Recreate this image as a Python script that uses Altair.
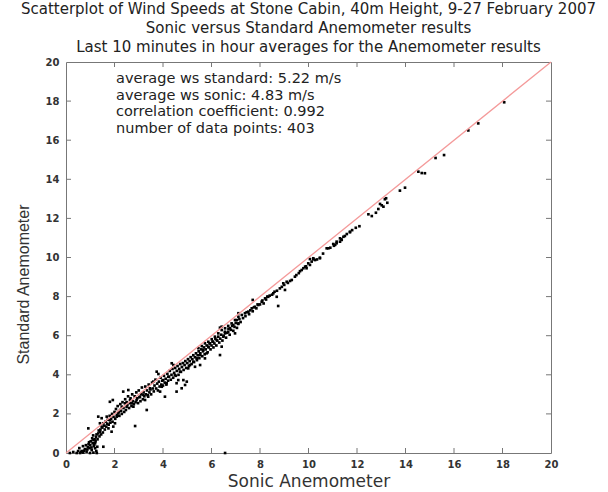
import altair as alt
import pandas as pd

# Sonic anemometer (x) readings, m/s
sonic = [
    0.16, 0.3, 0.44, 0.58, 0.65, 0.71, 0.78, 0.85, 0.9, 0.99,
    1.06, 1.13, 1.2, 1.27, 1.29, 1.0, 1.1, 0.95, 1.15, 1.25,
    0.92, 1.13, 1.2, 1.24, 1.33, 1.4, 1.47, 1.54, 1.4, 1.54,
    1.33, 1.47, 1.68, 1.81, 1.75, 1.88, 1.95, 2.02, 2.09, 2.16,
    2.23, 1.81, 1.93, 2.3, 2.36, 2.57, 2.43, 2.5, 2.64, 2.71,
    2.78, 2.85, 2.91, 3.05, 3.19, 3.26, 3.33, 3.39, 3.46, 3.6,
    3.74, 3.81, 3.88, 3.95, 4.01, 4.08, 4.15, 4.22, 4.36, 4.43,
    4.49, 4.56, 4.56, 4.63, 4.7, 4.77, 4.84, 4.91, 4.98, 5.04,
    5.11, 5.25, 5.32, 5.39, 5.53, 5.53, 5.66, 5.73, 5.8, 5.87,
    5.94, 6.07, 6.21, 6.35, 6.42, 6.49, 6.56, 6.69, 6.76, 6.9,
    6.97, 7.04, 7.11, 6.42, 6.56,
    5.46, 5.6, 5.73, 5.87, 6.01, 6.14, 6.28, 6.42, 6.56, 6.69,
    6.83, 6.97, 7.11, 7.25, 7.38, 7.52, 7.66, 7.79, 7.93, 8.07,
    8.21, 8.34, 8.55, 7.7, 7.11, 6.35, 8.75, 8.69, 8.82, 8.96,
    9.1, 9.24, 9.31, 9.44, 9.03, 9.72, 9.79, 9.86, 9.92, 9.99,
    10.06, 10.13, 10.2, 10.27, 10.47, 10.06, 10.2, 10.47, 10.75, 10.82,
    11.02, 11.05, 11.16, 11.16, 11.3, 11.3, 11.35, 11.37, 11.44, 11.58,
    11.71, 11.71, 11.95, 12.47, 12.61, 12.78, 12.88, 12.95, 13.02, 13.09,
    13.15, 13.2, 13.25, 13.77, 13.98, 14.53, 14.67, 14.8, 15.24, 15.59,
    16.59, 17.0, 18.07,
    0.5, 0.55, 0.62, 0.7, 0.75, 0.82, 0.88, 0.93, 0.97, 1.02,
    1.05, 1.08, 1.12, 1.16, 1.18, 1.22, 1.26, 1.3, 1.35, 1.38,
    1.42, 1.45, 1.5, 1.52, 1.58, 1.6, 1.63, 1.66, 1.7, 1.72,
    1.76, 1.8, 1.83, 1.86, 1.9, 1.92, 1.96, 2.0, 2.03, 2.06,
    2.1, 2.13, 2.17, 2.2, 2.24, 2.27, 2.3, 2.33, 2.37, 2.4,
    2.44, 2.47, 2.5, 2.53, 2.56, 2.6, 2.63, 2.66, 2.7, 2.73,
    2.76, 2.8, 2.83, 2.87, 2.9, 2.94, 2.97, 3.0, 3.03, 3.07,
    3.1, 3.13, 3.17, 3.2, 3.23, 3.27, 3.3, 3.34, 3.37, 3.41,
    3.44, 3.48, 3.51, 3.55, 3.58, 3.62, 3.65, 3.69, 3.72, 3.76,
    3.79, 3.83, 3.86, 3.9, 3.93, 3.97, 4.0, 4.04, 4.07, 4.11,
    4.14, 4.18, 4.21, 4.25, 4.28, 4.32, 4.35, 4.39, 4.42, 4.46,
    4.5, 4.53, 4.57, 4.6, 4.64, 4.67, 4.71, 4.74, 4.78, 4.82,
    4.85, 4.89, 4.92, 4.96, 5.0, 5.03, 5.07, 5.1, 5.14, 5.18,
    5.21, 5.25, 5.28, 5.32, 5.36, 5.4, 5.43, 5.47, 5.5, 5.54,
    5.58, 5.62, 5.65, 5.69, 5.72, 5.76, 5.8, 5.84, 5.88, 5.92,
    5.96, 6.0, 6.04, 6.08, 6.12, 6.16, 6.2, 6.24, 6.28, 6.32,
    6.36, 6.4, 6.45, 6.5, 6.55, 6.6, 6.65, 6.7, 6.75, 6.8,
    6.85, 6.9, 6.95, 7.0, 7.05, 7.1, 7.15, 7.2, 7.3, 7.4,
    7.45, 7.55, 7.6, 7.7, 7.75, 7.85, 7.9, 8.0, 8.1, 8.15,
    8.25, 8.3, 8.4, 8.5, 8.6, 8.7, 8.9, 9.0, 9.15, 9.5,
    9.6, 9.65, 9.9, 10.35, 10.6, 10.9, 11.1, 11.5, 11.8, 12.1,
]

# Standard anemometer (y) readings, m/s
standard = [
    0.0, 0.05, 0.0, 0.0, 0.1, 0.02, 0.2, 0.07, 0.3, 0.0,
    0.15, 0.02, 0.24, 0.0, 0.32, 0.4, 0.5, 0.55, 0.35, 0.1,
    1.26, 0.66, 0.5, 0.83, 1.0, 1.09, 1.35, 1.52, 1.52, 0.32,
    1.86, 1.78, 1.86, 1.69, 1.26, 1.09, 1.35, 1.52, 1.86, 2.03,
    2.2, 2.62, 2.71, 2.37, 3.14, 3.22, 2.54, 2.37, 2.71, 2.54,
    2.37, 1.38, 2.71, 2.88, 2.97, 2.71, 2.2, 2.88, 3.31, 3.65,
    4.16, 4.04, 3.14, 3.39, 3.73, 2.88, 3.57, 3.9, 4.59, 4.5,
    3.99, 3.57, 3.14, 3.73, 4.16, 3.31, 3.73, 3.48, 3.65, 4.33,
    4.5, 4.67, 4.41, 4.84, 4.5, 5.01, 5.27, 4.84, 5.1, 5.44,
    5.61, 5.69, 5.78, 5.01, 5.44, 5.95, 6.12, 6.2, 6.38, 6.55,
    6.12, 6.8, 6.63, 6.46, 0.0,
    5.36, 5.47, 5.61, 5.69, 5.82, 5.95, 6.12, 6.29, 6.38, 6.5,
    6.63, 6.8, 6.97, 7.06, 7.15, 7.23, 7.4, 7.48, 7.57, 7.74,
    7.91, 7.99, 8.17, 7.83, 7.15, 6.41, 7.52, 7.99, 8.42, 8.68,
    8.76, 8.8, 8.85, 9.02, 8.34, 9.36, 9.45, 9.53, 9.45, 9.7,
    9.62, 9.79, 9.91, 9.87, 9.96, 9.92, 9.96, 9.99, 10.47, 10.47,
    10.69, 10.6, 10.73, 10.81, 10.81, 10.98, 10.93, 10.9, 11.06, 11.2,
    11.29, 11.32, 11.52, 12.21, 12.12, 12.29, 12.48, 12.74, 12.67, 12.6,
    12.98, 13.03, 12.8, 13.42, 13.57, 14.39, 14.32, 14.31, 15.09, 15.24,
    16.5, 16.86, 17.94,
    0.1, 0.25, 0.05, 0.35, 0.12, 0.4, 0.18, 0.45, 0.25, 0.6,
    0.28, 0.75, 0.9, 0.42, 0.7, 0.6, 0.95, 0.7, 1.15, 0.85,
    1.2, 0.95, 1.3, 1.05, 1.4, 1.2, 1.6, 1.35, 1.5, 1.7,
    1.45, 1.9, 1.55, 1.75, 2.0, 1.6, 1.85, 2.1, 1.75, 2.25,
    1.95, 2.4, 2.1, 1.9, 2.5, 2.15, 2.0, 2.6, 2.3, 2.1,
    2.75, 2.2, 2.6, 2.45, 2.9, 2.3, 2.55, 2.8, 2.4, 3.0,
    2.65, 2.5, 2.9, 2.6, 3.1, 2.8, 2.55, 3.2, 2.85, 2.65,
    3.0, 3.35, 2.75, 3.1, 2.9, 3.4, 3.0, 3.2, 2.95, 3.5,
    3.1, 3.25, 3.0, 3.6, 3.3, 3.15, 3.45, 3.75, 3.3, 3.55,
    3.2, 3.65, 3.4, 3.85, 3.5, 3.7, 3.45, 3.95, 3.6, 3.8,
    3.5, 4.05, 3.7, 3.9, 4.2, 3.75, 4.0, 4.3, 3.85, 4.1,
    4.35, 3.95, 4.2, 4.45, 4.0, 4.3, 4.55, 4.15, 4.4, 4.6,
    4.25, 4.5, 4.7, 4.35, 4.6, 4.8, 4.45, 4.7, 4.9, 4.55,
    4.8, 5.0, 4.65, 4.9, 5.1, 4.75, 5.0, 5.2, 4.85, 5.1,
    5.3, 4.95, 5.2, 5.4, 5.05, 5.3, 5.5, 5.15, 5.4, 5.6,
    5.3, 5.5, 5.7, 5.4, 5.6, 5.85, 5.5, 5.75, 5.95, 5.65,
    5.85, 6.05, 5.75, 6.0, 6.2, 5.9, 6.15, 6.35, 6.05, 6.3,
    6.5, 6.25, 6.45, 6.65, 6.4, 6.6, 6.85, 6.7, 6.9, 7.0,
    7.2, 7.1, 7.3, 7.25, 7.45, 7.4, 7.6, 7.6, 7.8, 7.65,
    7.85, 8.0, 8.05, 8.1, 8.25, 8.3, 8.5, 8.6, 8.7, 9.1,
    9.2, 9.3, 9.55, 9.9, 10.2, 10.5, 10.65, 11.1, 11.4, 11.6,
]

line_x = [0, 20]
line_y = [0, 20]
axis_values = [0, 2, 4, 6, 8, 10, 12, 14, 16, 18, 20]
inner_ticks = [2, 4, 6, 8, 10, 12, 14, 16, 18]

title_lines = [
    "Scatterplot of Wind Speeds at Stone Cabin, 40m Height, 9-27 February 2007",
    "Sonic versus Standard Anemometer results",
    "Last 10 minutes in hour averages for the Anemometer results",
]
note_lines = [
    "average ws standard: 5.22 m/s",
    "average ws sonic: 4.83 m/s",
    "correlation coefficient: 0.992",
    "number of data points: 403",
]
x_title = "Sonic Anemometer"
y_title = "Standard Anemometer"

WIDE = "DejaVu Sans"
NARROW = "Liberation Sans"
W, H = 485, 391
TL = 5

n = min(len(sonic), len(standard))
pts = pd.DataFrame({"sonic": sonic[:n], "standard": standard[:n]})
line_df = pd.DataFrame({"sonic": line_x, "standard": line_y})
tick_df = pd.DataFrame({"t": inner_ticks})

xs = alt.Scale(domain=[0, 20], nice=False, zero=False)
ys = alt.Scale(domain=[0, 20], nice=False, zero=False)

x_axis = alt.Axis(
    values=axis_values, title=x_title, grid=False, ticks=False, domain=False,
    labelFont=WIDE, labelFontWeight="bold", labelFontSize=10, labelColor="#333",
    labelPadding=6, titleFont=WIDE, titleFontSize=17, titleFontWeight="normal",
    titleColor="#333", titlePadding=4, labelFlush=False,
)
y_axis = alt.Axis(
    values=axis_values, title=y_title, grid=False, ticks=False, domain=False,
    labelFont=WIDE, labelFontWeight="bold", labelFontSize=10, labelColor="#333",
    labelPadding=7, titleFont=NARROW, titleFontSize=16, titleFontWeight="normal",
    titleColor="#333", titlePadding=14, titleY=222, labelFlush=False,
)

points = alt.Chart(pts).mark_square(size=7, color="black", opacity=1).encode(
    x=alt.X("sonic:Q", scale=xs, axis=x_axis),
    y=alt.Y("standard:Q", scale=ys, axis=y_axis),
)

ref_line = alt.Chart(line_df).mark_line(color="#f49a9a", strokeWidth=1.3).encode(
    x=alt.X("sonic:Q", scale=xs, axis=x_axis),
    y=alt.Y("standard:Q", scale=ys, axis=y_axis),
)

tick_color = "#777"
bottom_ticks = alt.Chart(tick_df).mark_rule(color=tick_color).encode(
    x=alt.X("t:Q", scale=xs, axis=x_axis), y=alt.value(H), y2=alt.value(H - TL))
top_ticks = alt.Chart(tick_df).mark_rule(color=tick_color).encode(
    x=alt.X("t:Q", scale=xs, axis=x_axis), y=alt.value(0), y2=alt.value(TL))
left_ticks = alt.Chart(tick_df).mark_rule(color=tick_color).encode(
    y=alt.Y("t:Q", scale=ys, axis=y_axis), x=alt.value(0), x2=alt.value(TL))
right_ticks = alt.Chart(tick_df).mark_rule(color=tick_color).encode(
    y=alt.Y("t:Q", scale=ys, axis=y_axis), x=alt.value(W), x2=alt.value(W - TL))

notes = alt.Chart(pd.DataFrame({"k": [0]})).mark_text(
    align="left", baseline="top", font=WIDE, fontSize=14.5, lineHeight=16.5,
    color="#222",
).encode(x=alt.value(50), y=alt.value(10), text=alt.value(note_lines))

chart = alt.layer(
    points, ref_line, bottom_ticks, top_ticks, left_ticks, right_ticks, notes
).properties(
    width=W,
    height=H,
    title=alt.TitleParams(
        text=title_lines, font=WIDE, fontSize=15, fontWeight="normal",
        lineHeight=19, offset=2, anchor="middle", color="#222",
    ),
    autosize=alt.AutoSizeParams(type="none"),
    padding={"left": 66, "top": 62, "right": 57, "bottom": 39},
).configure_view(stroke="#777", strokeWidth=1)

chart.save("out.html", embed_options={"renderer": "svg", "actions": False})
